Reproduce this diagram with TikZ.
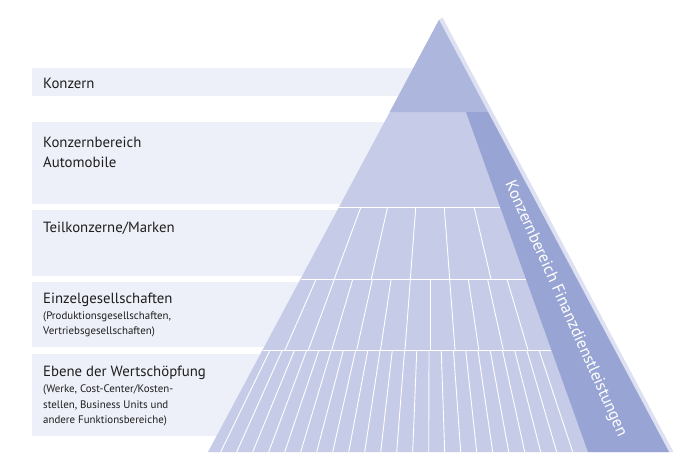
\documentclass[tikz,border=0pt]{standalone}
\usepackage{fontspec}
\setmainfont{PT Sans}
\usetikzlibrary{calc}
\definecolor{boxfill}{HTML}{EDF0F8}
\definecolor{pyrfill}{HTML}{C6CBE7}
\definecolor{topfill}{HTML}{ADB6DD}
\definecolor{bandfill}{HTML}{98A5D4}
\definecolor{edgefill}{HTML}{DDE1F1}
\definecolor{txt}{HTML}{1E1E1E}
\tikzset{
  labelbox/.style={fill=boxfill, draw=none},
  bigtxt/.style={anchor=base west, inner sep=0pt, text=txt, font=\fontsize{14.8}{18}\selectfont},
  smalltxt/.style={anchor=base west, inner sep=0pt, text=txt, font=\fontsize{10.9}{14}\selectfont},
  gridline/.style={white, line width=0.9pt},
  sepline/.style={white, line width=1pt},
}
\begin{document}
\begin{tikzpicture}[x=1pt,y=-1pt]
\useasboundingbox (0,0) rectangle (695,471);
% label boxes
\fill[labelbox] (32,68) rectangle (440,96);
\fill[labelbox] (32,122) rectangle (440,204);
\fill[labelbox] (32,210) rectangle (440,276);
\fill[labelbox] (32,282) rectangle (440,347);
\fill[labelbox] (32,354) rectangle (440,436);
% key points
\coordinate (A) at (439,20);
\coordinate (BL) at (208,452);
\coordinate (BR) at (669,452);
\coordinate (V) at (430,20);
\coordinate (L112) at (389.8,112);
\coordinate (R112) at (488,112);
\coordinate (L207) at (339,207);
\coordinate (L279) at (300.5,279);
\coordinate (L350) at (262.5,350);
\coordinate (I112) at (466,112);
\coordinate (I207) at (500.1,207);
\coordinate (I279) at (525.9,279);
\coordinate (I350) at (551.4,350);
\coordinate (I452) at (588,452);
% light edge
\fill[edgefill] (A) -- (442.5,17.5) -- (673.5,452) -- (BR) -- cycle;
% pyramid
\fill[pyrfill] (A) -- (BL) -- (BR) -- cycle;
\fill[topfill] (A) -- (L112) -- (R112) -- cycle;
\fill[bandfill] (I112) -- (R112) -- (BR) -- (I452) -- cycle;
% separators
\draw[sepline] (L207) -- (I207);
\draw[sepline] (L279) -- (I279);
\draw[sepline] (L350) -- (I350);
% grid rows
\begin{scope}
\clip (L207) -- (I207) -- (I279) -- (L279) -- cycle;
\foreach \x in {334.3,371.3,410.3,449.7,491}
  \draw[gridline] (\x,279) -- (V);
\end{scope}
\begin{scope}
\clip (L279) -- (I279) -- (I350) -- (L350) -- cycle;
\foreach \x in {285,308.3,331.7,356.7,380.5,405,430,455,478.8,503.3,528}
  \draw[gridline] (\x,350) -- (V);
\end{scope}
\begin{scope}
\clip (L350) -- (I350) -- (I452) -- (BL) -- cycle;
\foreach \k in {0,...,22}
  \draw[gridline] ({220.7+16*\k},452) -- (V);
\end{scope}
% band text
\node[rotate=-65.9, text=white, inner sep=0pt, font=\fontsize{16.5}{19}\selectfont] (fin) at (565.5,309) {Konzernbereich Finanzdienstleistungen};
% labels
\node[bigtxt] (konzern) at (43,88) {Konzern};
\node[bigtxt] (kba) at (43,147) {Konzernbereich};
\node[bigtxt] (kbb) at (43,167) {Automobile};
\node[bigtxt] (teil) at (43,232) {Teilkonzerne/Marken};
\node[bigtxt] (einz) at (43,303) {Einzelgesellschaften};
\node[smalltxt] (einza) at (43,319) {(Produktionsgesellschaften,};
\node[smalltxt] (einzb) at (43,334) {Vertriebsgesellschaften)};
\node[bigtxt] (ebene) at (43,376) {Ebene der Wertschöpfung};
\node[smalltxt] (ebenea) at (43,392) {(Werke, Cost-Center/Kosten-};
\node[smalltxt] (ebeneb) at (43,408) {stellen, Business Units und};
\node[smalltxt] (ebenec) at (43,423) {andere Funktionsbereiche)};
\end{tikzpicture}
\end{document}
